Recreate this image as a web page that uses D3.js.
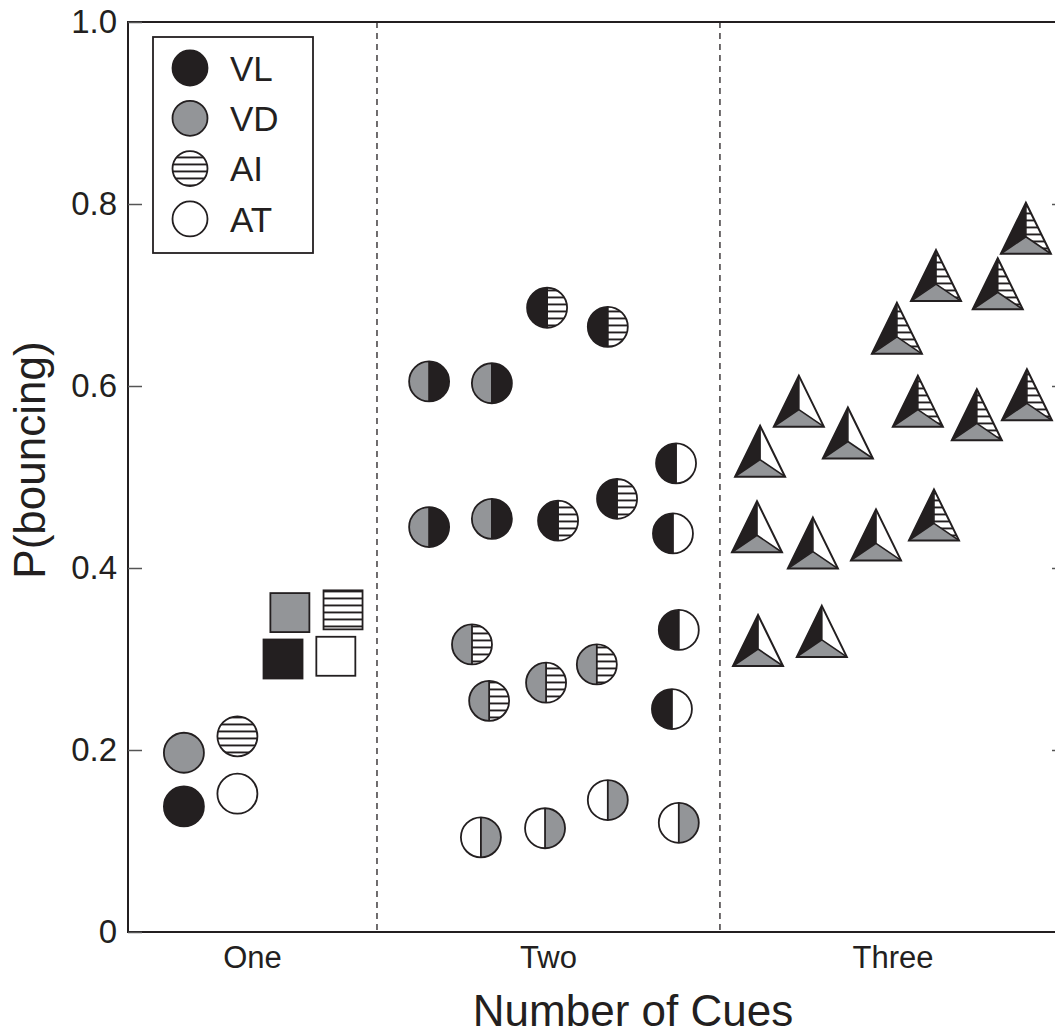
<!DOCTYPE html>
<html>
<head>
<meta charset="utf-8">
<script src="https://cdn.jsdelivr.net/npm/d3@7"></script>
<style>
  body { margin: 0; background: #fff; }
  svg { display: block; font-family: "Liberation Sans", Arial, sans-serif; }
</style>
</head>
<body>
<svg id="chart" width="1055" height="1036"></svg>
<script>
// categories on the x axis
const categories = ["One", "Two", "Three"];
const dividers = [1.5, 2.5];
const yTicks = [0, 0.2, 0.4, 0.6, 0.8, 1.0];
const legendCues = ["VL", "VD", "AI", "AT"];

// one cue: circles
const singleCue = ["VL", "VD", "AI", "AT"];
const singleX = [0.937, 0.937, 1.093, 1.093];
const singleY = [0.138, 0.197, 0.215, 0.152];

// one cue: squares
const squareCue = ["VL", "VD", "AT", "AI"];
const squareX = [1.226, 1.246, 1.380, 1.401];
const squareY = [0.300, 0.351, 0.303, 0.354];

// two cues: half circles (left cue | right cue)
const pairLeft  = ["VD", "VD", "VD", "VD", "VL", "VL", "VL", "VL", "VL", "VL", "VL", "VL", "VD", "VD", "VD", "VD", "AT", "AT", "AT", "AT"];
const pairRight = ["VL", "VL", "VL", "VL", "AI", "AI", "AI", "AI", "AT", "AT", "AT", "AT", "AI", "AI", "AI", "AI", "VD", "VD", "VD", "VD"];
const pairX = [1.652, 1.835, 1.652, 1.835, 1.996, 2.173, 2.028, 2.200, 2.372, 2.363, 2.380, 2.360, 1.777, 1.827, 1.993, 2.141, 1.803, 1.990, 2.173, 2.380];
const pairY = [0.605, 0.603, 0.445, 0.454, 0.686, 0.665, 0.452, 0.476, 0.515, 0.438, 0.332, 0.245, 0.316, 0.254, 0.274, 0.294, 0.104, 0.114, 0.145, 0.120];

// three cues: triangles (VL, VD + third cue)
const triThird = ["AT", "AT", "AT", "AT", "AT", "AT", "AT", "AT", "AI", "AI", "AI", "AI", "AI", "AI", "AI", "AI"];
const triX = [2.617, 2.730, 2.873, 2.608, 2.771, 2.955, 2.611, 2.797, 3.016, 3.130, 3.310, 3.392, 3.077, 3.249, 3.395, 3.124];
const triY = [0.519, 0.574, 0.539, 0.436, 0.418, 0.427, 0.311, 0.321, 0.654, 0.712, 0.703, 0.764, 0.574, 0.559, 0.581, 0.449];

const ink = "#231f20";
const fills = { VL: ink, VD: "#939598", AI: "url(#stripes)", AT: "#ffffff" };

const svg = d3.select("#chart");
const plotL = 128, plotR = 1066, plotT = 22, plotB = 932;

const x = d3.scaleLinear().domain([0.774, 3.509]).range([plotL, plotR]);
const y = d3.scaleLinear().domain([0, 1]).range([plotB, plotT]);

// stripe pattern
const pat = svg.append("defs").append("pattern")
  .attr("id", "stripes")
  .attr("patternUnits", "userSpaceOnUse")
  .attr("width", 10).attr("height", 7);
pat.append("rect").attr("width", 10).attr("height", 7).attr("fill", "#fff");
pat.append("rect").attr("y", 2.5).attr("width", 10).attr("height", 1.9).attr("fill", ink);

// frame
svg.append("rect")
  .attr("x", plotL).attr("y", plotT)
  .attr("width", plotR - plotL).attr("height", plotB - plotT)
  .attr("fill", "none").attr("stroke", ink).attr("stroke-width", 2);

// dividers
svg.selectAll(".divider").data(dividers).enter().append("line")
  .attr("x1", d => x(d)).attr("x2", d => x(d))
  .attr("y1", plotT).attr("y2", plotB)
  .attr("stroke", ink).attr("stroke-width", 1.3)
  .attr("stroke-dasharray", "6,5");

// y axis
const yAxis = svg.append("g")
  .attr("transform", "translate(" + plotL + ",0)")
  .call(d3.axisLeft(y).tickValues(yTicks).tickSize(-14).tickPadding(11)
    .tickFormat(d => d === 0 ? "0" : d3.format(".1f")(d)));
yAxis.select(".domain").remove();
yAxis.selectAll(".tick line").attr("stroke", "#555").attr("stroke-width", 1.5);
yAxis.selectAll(".tick text")
  .attr("font-size", 33).attr("fill", ink)
  .attr("font-family", "'Liberation Sans', Arial, sans-serif");

// right ticks
const yRight = svg.append("g")
  .attr("transform", "translate(" + plotR + ",0)")
  .call(d3.axisRight(y).tickValues(yTicks.slice(1, 5)).tickSize(-14).tickFormat(""));
yRight.select(".domain").remove();
yRight.selectAll(".tick line").attr("stroke", "#555").attr("stroke-width", 1.5);

// category labels
const catPos = [(x.domain()[0] + dividers[0]) / 2, (dividers[0] + dividers[1]) / 2, (dividers[1] + x.domain()[1]) / 2];
svg.selectAll(".cat").data(categories).enter().append("text")
  .attr("x", (d, i) => x(catPos[i])).attr("y", 968)
  .attr("text-anchor", "middle").attr("font-size", 31).attr("fill", ink)
  .text(d => d);

// axis titles
svg.append("text")
  .attr("x", 633).attr("y", 1026)
  .attr("text-anchor", "middle").attr("font-size", 44).attr("fill", ink)
  .text("Number of Cues");
svg.append("text")
  .attr("transform", "translate(45,460) rotate(-90)")
  .attr("text-anchor", "middle").attr("font-size", 44).attr("fill", ink)
  .text("P(bouncing)");

const marks = svg.append("g");
const r = 20;

// single circles
singleCue.forEach((c, i) => {
  marks.append("circle")
    .attr("cx", x(singleX[i])).attr("cy", y(singleY[i])).attr("r", r)
    .attr("fill", fills[c]).attr("stroke", ink).attr("stroke-width", 1.8);
});

// squares
const s = 39;
squareCue.forEach((c, i) => {
  marks.append("rect")
    .attr("x", x(squareX[i]) - s / 2).attr("y", y(squareY[i]) - s / 2)
    .attr("width", s).attr("height", s)
    .attr("fill", fills[c]).attr("stroke", ink).attr("stroke-width", 1.8);
});

// half circles
pairX.forEach((px, i) => {
  const cx = x(px), cy = y(pairY[i]);
  marks.append("path")
    .attr("d", `M${cx},${cy - r}A${r},${r} 0 0 0 ${cx},${cy + r}Z`)
    .attr("fill", fills[pairLeft[i]]);
  marks.append("path")
    .attr("d", `M${cx},${cy - r}A${r},${r} 0 0 1 ${cx},${cy + r}Z`)
    .attr("fill", fills[pairRight[i]]);
  marks.append("circle").attr("cx", cx).attr("cy", cy).attr("r", r)
    .attr("fill", "none").attr("stroke", ink).attr("stroke-width", 1.8);
  marks.append("line").attr("x1", cx).attr("x2", cx).attr("y1", cy - r).attr("y2", cy + r)
    .attr("stroke", ink).attr("stroke-width", 1.8);
});

// triangles
const th = 51, tw = 25;
triX.forEach((tx, i) => {
  const cx = x(tx), cy = y(triY[i]);
  const apex = [cx, cy - th * 2 / 3], bl = [cx - tw, cy + th / 3], br = [cx + tw, cy + th / 3], c = [cx, cy];
  const poly = pts => "M" + pts.map(p => p.join(",")).join("L") + "Z";
  marks.append("path").attr("d", poly([apex, c, bl])).attr("fill", fills.VL);
  marks.append("path").attr("d", poly([bl, c, br])).attr("fill", fills.VD);
  marks.append("path").attr("d", poly([apex, br, c])).attr("fill", fills[triThird[i]]);
  marks.append("path").attr("d", poly([apex, br, bl]))
    .attr("fill", "none").attr("stroke", ink).attr("stroke-width", 2).attr("stroke-linejoin", "miter");
  marks.append("path").attr("d", "M" + apex.join(",") + "L" + c.join(",") + "L" + br.join(",") + "M" + c.join(",") + "L" + bl.join(","))
    .attr("fill", "none").attr("stroke", ink).attr("stroke-width", 1.6);
});

// legend
const legend = svg.append("g");
legend.append("rect")
  .attr("x", 153).attr("y", 37).attr("width", 160).attr("height", 216)
  .attr("fill", "#fff").attr("stroke", ink).attr("stroke-width", 1.8);
legendCues.forEach((c, i) => {
  const ly = 68 + i * 50.3;
  legend.append("circle").attr("cx", 190).attr("cy", ly).attr("r", 17.5)
    .attr("fill", fills[c]).attr("stroke", ink).attr("stroke-width", 1.8);
  legend.append("text").attr("x", 230).attr("y", ly).attr("dy", "0.36em")
    .attr("font-size", 35).attr("fill", ink).text(c);
});
</script>
</body>
</html>
